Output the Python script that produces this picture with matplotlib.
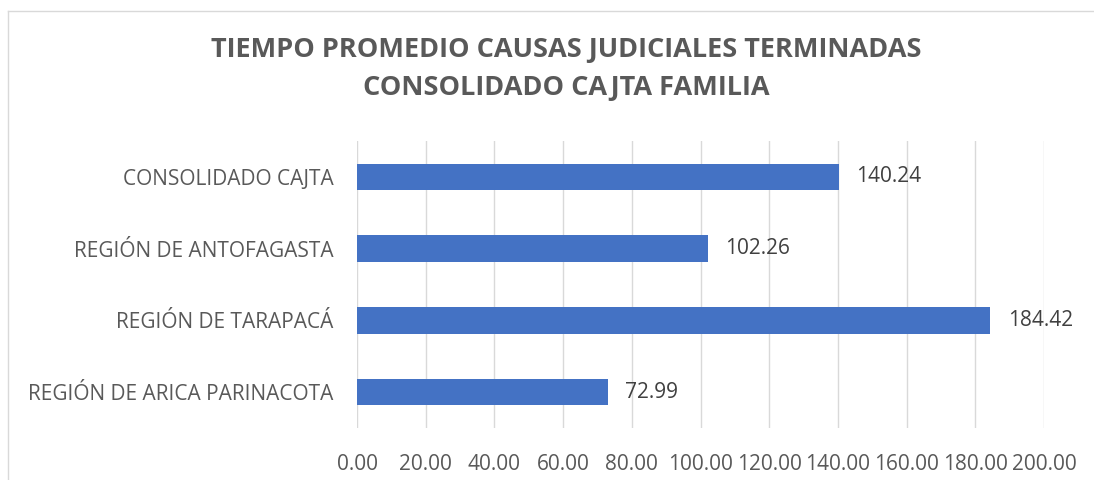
import matplotlib
matplotlib.use('Agg')
import matplotlib.pyplot as plt
from matplotlib.lines import Line2D

plt.rcParams['font.family'] = ['Liberation Sans Narrow', 'Open Sans', 'DejaVu Sans']

# datos del grafico (de abajo hacia arriba)
regiones = ['REGIÓN DE ARICA PARINACOTA', 'REGIÓN DE TARAPACÁ',
            'REGIÓN DE ANTOFAGASTA', 'CONSOLIDADO CAJTA']
dias = [72.99, 184.42, 102.26, 140.24]
ticks_x = [0, 20, 40, 60, 80, 100, 120, 140, 160, 180, 200]

gris_texto = '#595959'
azul = '#4472C4'

fig = plt.figure(figsize=(10.94, 4.8), dpi=100)
ax = fig.add_axes([357 / 1094, 1 - 428 / 480, (1044 - 357) / 1094, (428 - 141) / 480])

ax.barh(range(len(regiones)), dias, height=0.37, color=azul, zorder=3)
for i, v in enumerate(dias):
    ax.text(v + 5, i, '%.2f' % v, va='center', ha='left', fontsize=15, color='#404040')

ax.set_xlim(0, 200)
ax.set_ylim(-0.5, len(regiones) - 0.5)
ax.set_xticks(ticks_x)
ax.set_xticklabels(['%.2f' % t for t in ticks_x])
ax.set_yticks(range(len(regiones)))
ax.set_yticklabels(regiones)
ax.tick_params(axis='x', length=0, pad=19, labelsize=15, colors=gris_texto)
ax.tick_params(axis='y', length=0, pad=17, labelsize=15, colors=gris_texto)
ax.grid(axis='x', color='#d9d9d9', linewidth=1, zorder=0)
for s in ax.spines.values():
    s.set_visible(False)

fig.text(0.518, 1 - 50 / 480, 'TIEMPO PROMEDIO CAUSAS JUDICIALES TERMINADAS',
         ha='center', va='center', fontsize=19.5, fontweight='bold', color=gris_texto)
fig.text(0.518, 1 - 88 / 480, 'CONSOLIDADO CAJTA FAMILIA',
         ha='center', va='center', fontsize=19.5, fontweight='bold', color=gris_texto)

# borde del area del grafico (solo se ve arriba e izquierda)
x0 = 7.5 / 1094
y0 = 1 - 10.5 / 480
fig.add_artist(Line2D([x0, x0], [0, y0], color='#d9d9d9', linewidth=1))
fig.add_artist(Line2D([x0, 1], [y0, y0], color='#d9d9d9', linewidth=1))

fig.savefig('out.png', dpi=100, facecolor='white')
